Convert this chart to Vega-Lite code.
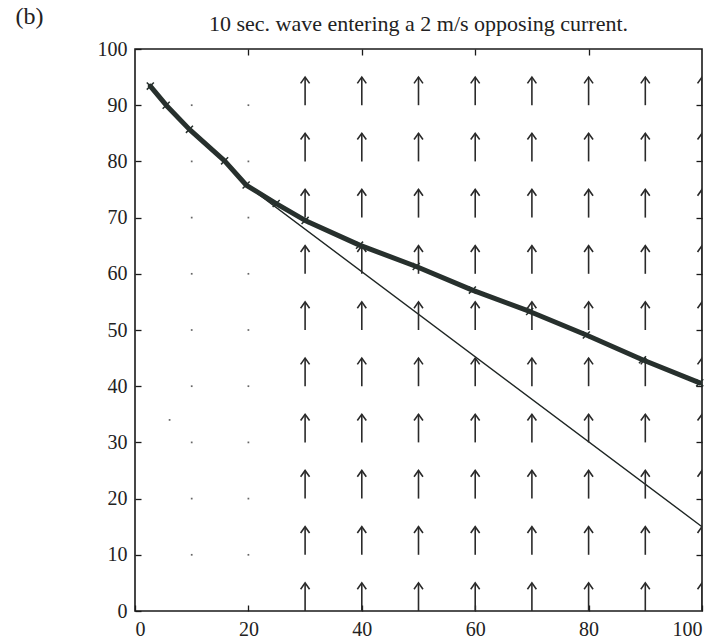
{
  "$schema": "https://vega.github.io/schema/vega-lite/v6.json",
  "width": 567,
  "height": 562,
  "autosize": "none",
  "padding": {"left": 135, "top": 49, "right": 19, "bottom": 30},
  "background": "white",
  "config": {
    "view": {"stroke": "#1a1a1a", "strokeWidth": 1.6},
    "font": "Liberation Serif",
    "axis": {"grid": false, "domain": false, "labelFont": "Liberation Serif", "labelFontSize": 20, "labelColor": "#222", "tickColor": "#1a1a1a", "tickWidth": 1.3, "tickSize": -6}
  },
  "datasets": {
    "arrows": [
      {"x":30,"y0":0,"y1":5},{"x":30,"y0":10,"y1":15},{"x":30,"y0":20,"y1":25},{"x":30,"y0":30,"y1":35},{"x":30,"y0":40,"y1":45},{"x":30,"y0":50,"y1":55},{"x":30,"y0":60,"y1":65},{"x":30,"y0":70,"y1":75},{"x":30,"y0":80,"y1":85},{"x":30,"y0":90,"y1":95},
      {"x":40,"y0":0,"y1":5},{"x":40,"y0":10,"y1":15},{"x":40,"y0":20,"y1":25},{"x":40,"y0":30,"y1":35},{"x":40,"y0":40,"y1":45},{"x":40,"y0":50,"y1":55},{"x":40,"y0":60,"y1":65},{"x":40,"y0":70,"y1":75},{"x":40,"y0":80,"y1":85},{"x":40,"y0":90,"y1":95},
      {"x":50,"y0":0,"y1":5},{"x":50,"y0":10,"y1":15},{"x":50,"y0":20,"y1":25},{"x":50,"y0":30,"y1":35},{"x":50,"y0":40,"y1":45},{"x":50,"y0":50,"y1":55},{"x":50,"y0":60,"y1":65},{"x":50,"y0":70,"y1":75},{"x":50,"y0":80,"y1":85},{"x":50,"y0":90,"y1":95},
      {"x":60,"y0":0,"y1":5},{"x":60,"y0":10,"y1":15},{"x":60,"y0":20,"y1":25},{"x":60,"y0":30,"y1":35},{"x":60,"y0":40,"y1":45},{"x":60,"y0":50,"y1":55},{"x":60,"y0":60,"y1":65},{"x":60,"y0":70,"y1":75},{"x":60,"y0":80,"y1":85},{"x":60,"y0":90,"y1":95},
      {"x":70,"y0":0,"y1":5},{"x":70,"y0":10,"y1":15},{"x":70,"y0":20,"y1":25},{"x":70,"y0":30,"y1":35},{"x":70,"y0":40,"y1":45},{"x":70,"y0":50,"y1":55},{"x":70,"y0":60,"y1":65},{"x":70,"y0":70,"y1":75},{"x":70,"y0":80,"y1":85},{"x":70,"y0":90,"y1":95},
      {"x":80,"y0":0,"y1":5},{"x":80,"y0":10,"y1":15},{"x":80,"y0":20,"y1":25},{"x":80,"y0":30,"y1":35},{"x":80,"y0":40,"y1":45},{"x":80,"y0":50,"y1":55},{"x":80,"y0":60,"y1":65},{"x":80,"y0":70,"y1":75},{"x":80,"y0":80,"y1":85},{"x":80,"y0":90,"y1":95},
      {"x":90,"y0":0,"y1":5},{"x":90,"y0":10,"y1":15},{"x":90,"y0":20,"y1":25},{"x":90,"y0":30,"y1":35},{"x":90,"y0":40,"y1":45},{"x":90,"y0":50,"y1":55},{"x":90,"y0":60,"y1":65},{"x":90,"y0":70,"y1":75},{"x":90,"y0":80,"y1":85},{"x":90,"y0":90,"y1":95},
      {"x":100,"y0":0,"y1":5},{"x":100,"y0":10,"y1":15},{"x":100,"y0":20,"y1":25},{"x":100,"y0":30,"y1":35},{"x":100,"y0":40,"y1":45},{"x":100,"y0":50,"y1":55},{"x":100,"y0":60,"y1":65},{"x":100,"y0":70,"y1":75},{"x":100,"y0":80,"y1":85},{"x":100,"y0":90,"y1":95}
    ],
    "dots": [
      {"x":10,"y":10},{"x":10,"y":20},{"x":10,"y":30},{"x":10,"y":40},{"x":10,"y":50},{"x":10,"y":60},{"x":10,"y":70},{"x":10,"y":80},{"x":10,"y":90},
      {"x":20,"y":10},{"x":20,"y":20},{"x":20,"y":30},{"x":20,"y":40},{"x":20,"y":50},{"x":20,"y":60},{"x":20,"y":70},{"x":20,"y":80},{"x":20,"y":90},
      {"x":6.1,"y":34}
    ],
    "thick": [
      {"x":2.7,"y":93.4},{"x":5.5,"y":90},{"x":9.6,"y":85.7},{"x":15.8,"y":80.1},{"x":19.6,"y":75.8},{"x":24.9,"y":72.5},{"x":30,"y":69.5},{"x":39.6,"y":65.1},{"x":49.6,"y":61.3},{"x":59.5,"y":57.1},{"x":69.6,"y":53.3},{"x":79.6,"y":49.1},{"x":89.5,"y":44.7},{"x":99.6,"y":40.6}
    ],
    "thin": [
      {"x":2.7,"y":93.4},{"x":9.6,"y":85.7},{"x":15.8,"y":80.1},{"x":19.6,"y":75.8},{"x":100,"y":15}
    ],
    "texts": [
      {"x":-18.6,"y":104.5,"t":"(b)","size":24},
      {"x":50,"y":103.2,"t":"10 sec. wave entering a 2 m/s opposing current.","size":22}
    ]
  },
  "resolve": {"axis": {"x": "independent", "y": "independent"}},
  "layer": [
    {
      "data": {"name": "thin"},
      "mark": {"type": "line", "color": "#1f2624", "strokeWidth": 1.4},
      "encoding": {
        "x": {"field": "x", "type": "quantitative", "scale": {"domain": [0, 100], "nice": false, "zero": false}, "axis": {"orient": "bottom", "values": [0,20,40,60,80,100], "labelPadding": 14, "labelFontSize": 20, "title": null}},
        "y": {"field": "y", "type": "quantitative", "scale": {"domain": [0, 100], "nice": false, "zero": false}, "axis": {"orient": "left", "values": [0,10,20,30,40,50,60,70,80,90,100], "labelPadding": 14, "labelFontSize": 20, "title": null}}
      }
    },
    {
      "data": {"name": "arrows"},
      "mark": {"type": "rule", "color": "#2a2a2a", "strokeWidth": 1.6, "clip": true},
      "encoding": {
        "x": {"field": "x", "type": "quantitative", "axis": {"orient": "top", "values": [20,40,60,80], "labels": false, "title": null}},
        "y": {"field": "y0", "type": "quantitative", "axis": {"orient": "right", "values": [10,20,30,40,50,60,70,80,90], "labels": false, "title": null}},
        "y2": {"field": "y1"}
      }
    },
    {
      "data": {"name": "arrows"},
      "mark": {"type": "point", "shape": "M-1,1.4L0,0L1,1.4", "filled": false, "stroke": "#2a2a2a", "strokeWidth": 1.6, "size": 80, "clip": true, "opacity": 1},
      "encoding": {
        "x": {"field": "x", "type": "quantitative", "axis": null},
        "y": {"field": "y1", "type": "quantitative", "axis": null}
      }
    },
    {
      "data": {"name": "dots"},
      "mark": {"type": "point", "shape": "square", "filled": true, "color": "#666", "size": 3, "opacity": 1},
      "encoding": {
        "x": {"field": "x", "type": "quantitative", "axis": null},
        "y": {"field": "y", "type": "quantitative", "axis": null}
      }
    },
    {
      "data": {"name": "thick"},
      "mark": {"type": "line", "color": "#27302d", "strokeWidth": 5, "strokeJoin": "round", "strokeCap": "round"},
      "encoding": {
        "x": {"field": "x", "type": "quantitative", "axis": null},
        "y": {"field": "y", "type": "quantitative", "axis": null}
      }
    },
    {
      "data": {"name": "thick"},
      "mark": {"type": "point", "shape": "M-1,-1L1,1M-1,1L1,-1", "filled": false, "stroke": "#27302d", "strokeWidth": 1.5, "size": 50, "opacity": 1},
      "encoding": {
        "x": {"field": "x", "type": "quantitative", "axis": null},
        "y": {"field": "y", "type": "quantitative", "axis": null}
      }
    },
    {
      "data": {"name": "texts"},
      "mark": {"type": "text", "font": "Liberation Serif", "color": "#222", "baseline": "alphabetic", "align": "center", "clip": false},
      "encoding": {
        "x": {"field": "x", "type": "quantitative", "axis": null},
        "y": {"field": "y", "type": "quantitative", "axis": null},
        "text": {"field": "t"},
        "size": {"field": "size", "type": "quantitative", "scale": null}
      }
    }
  ]
}
